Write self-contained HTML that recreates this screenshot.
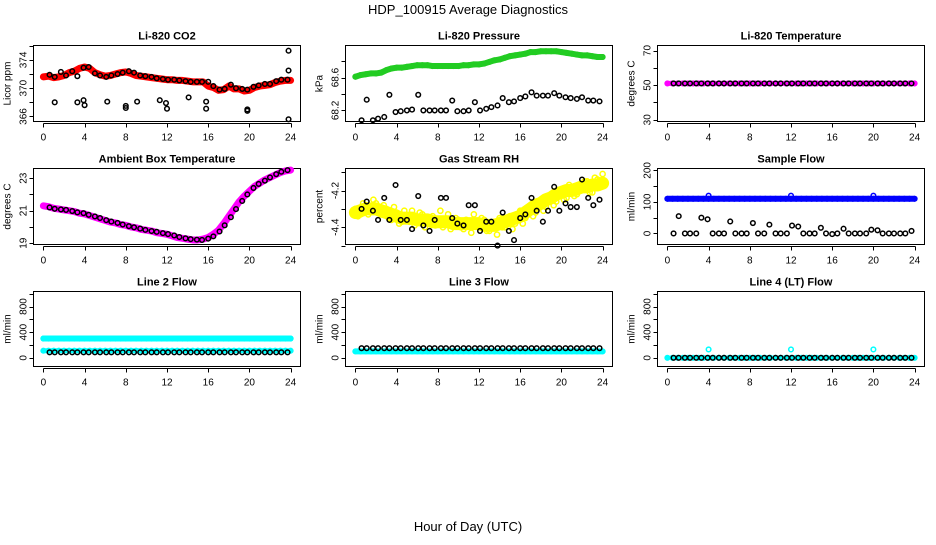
<!DOCTYPE html>
<html><head><meta charset="utf-8"><style>
body{margin:0;background:#fff;width:936px;height:540px;overflow:hidden}
svg text{font-family:"Liberation Sans",sans-serif}
</style></head><body>
<svg id="c" width="936" height="540" viewBox="0 0 936 540" xmlns="http://www.w3.org/2000/svg">
<text x="468" y="14" text-anchor="middle" font-size="13">HDP_100915  Average Diagnostics</text>
<text x="468" y="531" text-anchor="middle" font-size="13">Hour of Day (UTC)</text>
</svg>
<script>
// ---- data ----
const denseX = [0,0.5,1,1.5,2,2.5,3,3.5,4,4.5,5,5.5,6,6.5,7,7.5,8,8.5,9,9.5,10,10.5,11,11.5,12,12.5,13,13.5,14,14.5,15,15.5,16,16.5,17,17.5,18,18.5,19,19.5,20,20.5,21,21.5,22,22.5,23,23.5,24];
const blackX = [0.6,1.1,1.7,2.2,2.8,3.3,3.9,4.4,5.0,5.5,6.1,6.6,7.2,7.7,8.3,8.8,9.4,9.9,10.5,11.0,11.6,12.1,12.7,13.2,13.8,14.3,14.9,15.4,16.0,16.5,17.1,17.6,18.2,18.7,19.3,19.8,20.4,20.9,21.5,22.0,22.6,23.1,23.7];
const co2Red = [371.6,371.7,371.5,371.6,371.8,372.2,372.4,372.8,373,372.8,372.2,371.9,371.7,371.8,372,372.2,372.3,372.1,371.8,371.7,371.6,371.5,371.4,371.3,371.2,371.2,371.1,371.1,371,370.9,370.9,370.9,370.3,370.1,369.7,369.8,370.3,369.9,369.9,369.6,369.7,370.1,370.3,370.4,370.5,370.8,371,371.1,371.1];
const co2Black = [371.9,371.6,372.3,371.8,372.4,371.7,372.9,373.0,372.1,371.8,371.6,371.8,372.0,372.2,372.4,372.2,371.8,371.7,371.6,371.4,371.3,371.2,371.2,371.1,371.0,370.9,370.9,370.9,370.9,370.3,369.8,369.9,370.5,370.0,369.9,369.8,370.2,370.4,370.6,370.6,371.0,371.2,371.2];
const co2OutX = [1.1,3.3,3.9,4.0,6.2,8.0,8.0,9.1,11.3,11.9,12.0,14.1,15.8,15.8,19.8,19.8,23.8,23.8,23.8];
const co2OutY = [368,368,368.3,367.6,368.1,367.5,367.2,368.1,368.3,367.9,367.1,368.7,368.1,367.1,366.8,367.0,375.3,372.5,365.6];
const presGreen = [68.61,68.63,68.64,68.65,68.65,68.66,68.69,68.71,68.72,68.72,68.73,68.74,68.75,68.75,68.75,68.74,68.74,68.74,68.74,68.74,68.74,68.75,68.75,68.76,68.76,68.77,68.79,68.81,68.82,68.84,68.86,68.87,68.88,68.89,68.91,68.91,68.92,68.92,68.92,68.92,68.91,68.9,68.89,68.88,68.87,68.87,68.86,68.85,68.85];
const presBlack = [68.08,68.33,68.08,68.1,68.12,68.39,68.18,68.19,68.2,68.21,68.39,68.2,68.2,68.2,68.2,68.2,68.32,68.19,68.19,68.2,68.3,68.2,68.22,68.24,68.26,68.35,68.3,68.31,68.35,68.37,68.42,68.38,68.38,68.38,68.41,68.38,68.36,68.35,68.34,68.36,68.32,68.32,68.31];
const tempMag = [51,51,51,51,51,51,51,51,51,51,51,51,51,51,51,51,51,51,51,51,51,51,51,51,51,51,51,51,51,51,51,51,51,51,51,51,51,51,51,51,51,51,51,51,51,51,51,51,51];
const tempBlack = [51,51,51,51,51,51,51,51,51,51,51,51,51,51,51,51,51,51,51,51,51,51,51,51,51,51,51,51,51,51,51,51,51,51,51,51,51,51,51,51,51,51,51];
const ambMag = [21.3,21.25,21.15,21.1,21.05,21.0,20.95,20.85,20.8,20.7,20.6,20.5,20.4,20.3,20.25,20.15,20.1,20.0,19.95,19.85,19.8,19.75,19.65,19.6,19.55,19.45,19.35,19.3,19.25,19.2,19.2,19.25,19.35,19.55,19.8,20.2,20.65,21.1,21.55,21.9,22.2,22.5,22.7,22.9,23.05,23.2,23.35,23.45,23.5];
const ambBlack = [21.2,21.12,21.08,21.05,20.98,20.9,20.85,20.75,20.65,20.55,20.42,20.33,20.25,20.15,20.05,19.98,19.9,19.82,19.75,19.7,19.62,19.56,19.48,19.38,19.3,19.25,19.22,19.2,19.28,19.42,19.72,20.1,20.6,21.1,21.6,22.0,22.4,22.65,22.85,23.05,23.25,23.4,23.5];
const rhTrend = [-4.32,-4.31,-4.30,-4.30,-4.30,-4.31,-4.32,-4.33,-4.34,-4.35,-4.35,-4.35,-4.36,-4.36,-4.36,-4.37,-4.37,-4.37,-4.37,-4.38,-4.38,-4.38,-4.38,-4.38,-4.38,-4.39,-4.39,-4.39,-4.38,-4.37,-4.36,-4.35,-4.34,-4.32,-4.30,-4.28,-4.27,-4.25,-4.24,-4.22,-4.21,-4.20,-4.20,-4.19,-4.18,-4.18,-4.17,-4.17,-4.16];
const rhYellowA = [-4.30,-4.33,-4.28,-4.31,-4.27,-4.33,-4.30,-4.36,-4.32,-4.37,-4.34,-4.31,-4.36,-4.33,-4.38,-4.34,-4.36,-4.40,-4.33,-4.38,-4.36,-4.41,-4.37,-4.33,-4.39,-4.36,-4.42,-4.37,-4.35,-4.40,-4.34,-4.38,-4.31,-4.35,-4.28,-4.32,-4.26,-4.29,-4.22,-4.26,-4.20,-4.24,-4.18,-4.22,-4.19,-4.15,-4.21,-4.14,-4.17];
const rhYellowB = [-4.34,-4.27,-4.33,-4.25,-4.32,-4.28,-4.35,-4.29,-4.38,-4.31,-4.37,-4.39,-4.32,-4.40,-4.35,-4.39,-4.31,-4.37,-4.41,-4.35,-4.40,-4.36,-4.43,-4.38,-4.35,-4.42,-4.38,-4.44,-4.40,-4.36,-4.41,-4.33,-4.38,-4.30,-4.34,-4.27,-4.31,-4.23,-4.28,-4.21,-4.25,-4.17,-4.23,-4.19,-4.15,-4.21,-4.13,-4.18,-4.11];
const rhBlack = [-4.30,-4.26,-4.31,-4.36,-4.24,-4.36,-4.17,-4.36,-4.36,-4.41,-4.23,-4.39,-4.42,-4.36,-4.24,-4.24,-4.35,-4.38,-4.39,-4.28,-4.28,-4.42,-4.37,-4.37,-4.50,-4.32,-4.42,-4.47,-4.35,-4.33,-4.24,-4.31,-4.37,-4.31,-4.18,-4.31,-4.27,-4.29,-4.29,-4.14,-4.24,-4.28,-4.25];
const sampBlue = [110,110,110,110,110,110,110,110,110,110,110,110,110,110,110,110,110,110,110,110,110,110,110,110,110,110,110,110,110,110,110,110,110,110,110,110,110,110,110,110,110,110,110,110,110,110,110,110,110];
const sampBlack = [0,55,0,0,0,50,45,0,0,0,38,0,0,0,33,0,0,28,0,0,0,25,22,0,0,0,18,0,-2,0,15,0,0,0,0,12,10,0,0,0,0,0,8];
const line2Upper = [300,300,300,300,300,300,300,300,300,300,300,300,300,300,300,300,300,300,300,300,300,300,300,300,300,300,300,300,300,300,300,300,300,300,300,300,300,300,300,300,300,300,300,300,300,300,300,300,300];
const line2Lower = [110,110,110,110,110,110,110,110,110,110,110,110,110,110,110,110,110,110,110,110,110,110,110,110,110,110,110,110,110,110,110,110,110,110,110,110,110,110,110,110,110,110,110,110,110,110,110,110,110];
const line2Black = [85,85,85,85,85,85,85,85,85,85,85,85,85,85,85,85,85,85,85,85,85,85,85,85,85,85,85,85,85,85,85,85,85,85,85,85,85,85,85,85,85,85,85];
const line3Cyan = [100,100,100,100,100,100,100,100,100,100,100,100,100,100,100,100,100,100,100,100,100,100,100,100,100,100,100,100,100,100,100,100,100,100,100,100,100,100,100,100,100,100,100,100,100,100,100,100,100];
const line3Black = [150,150,150,150,150,150,150,150,150,150,150,150,150,150,150,150,150,150,150,150,150,150,150,150,150,150,150,150,150,150,150,150,150,150,150,150,150,150,150,150,150,150,150];
const line4Cyan = [0,0,0,0,0,0,0,0,0,0,0,0,0,0,0,0,0,0,0,0,0,0,0,0,0,0,0,0,0,0,0,0,0,0,0,0,0,0,0,0,0,0,0,0,0,0,0,0,0];
const line4Black = [0,0,0,0,0,0,0,0,0,0,0,0,0,0,0,0,0,0,0,0,0,0,0,0,0,0,0,0,0,0,0,0,0,0,0,0,0,0,0,0,0,0,0];
const flowOutX = [4,12,20];
const flowOutY = [120,120,120];
const line4OutY = [130,130,130];
const xTicks = [0,4,8,12,16,20,24];

const svg = document.getElementById('c');
const NS = 'http://www.w3.org/2000/svg';
function mk(tag, attrs, parent){
  const e = document.createElementNS(NS, tag);
  for (const k in attrs) e.setAttribute(k, attrs[k]);
  (parent||svg).appendChild(e);
  return e;
}
const rows = [{top:45.5,bot:121.5},{top:168.5,bot:244.5},{top:291.5,bot:366.5}];
const cols = [0,312,624];

function panel(r, c, name, title, ylab, lo, hi, ticks, labels){
  const g = mk('g', {});
  
  
  const L = 33.5 + cols[c], R = 300.5 + cols[c], T = rows[r].top, B = rows[r].bot;
  const xs = v => L + (v + 0.96) / 25.92 * (R - L);
  const ys = v => B - (v - lo) / (hi - lo) * (B - T);
  const box = mk('rect', {x:L, y:T, width:R-L, height:B-T, fill:'none', stroke:'#000', 'stroke-width':1}, g);
  
  
  const t = mk('text', {x:(L+R)/2, y:T-6, 'text-anchor':'middle', 'font-size':11, 'font-weight':'bold'}, g);
  t.textContent = title;
  
  
  const yl = mk('text', {x:0, y:0, 'text-anchor':'middle', 'font-size':10, transform:`translate(${L-23},${(T+B)/2}) rotate(-90)`}, g);
  yl.textContent = ylab;
  
  
  const xa = mk('line', {x1:Math.round(xs(0))+0.5, x2:Math.round(xs(24))+0.5, y1:B+2, y2:B+2, stroke:'#000'}, g);
  
  
  xTicks.forEach(v => {
    const tx0 = Math.round(xs(v)) + 0.5;
    mk('line', {x1:tx0, x2:tx0, y1:B+2, y2:B+6, stroke:'#000'}, g);
    const tx = mk('text', {x:xs(v), y:B+19, 'text-anchor':'middle', 'font-size':10}, g);
    tx.textContent = v;
    
    
  });
  ticks.forEach(v => {
    const ty0 = Math.round(ys(v)) + 0.5;
    mk('line', {x1:L-4, x2:L, y1:ty0, y2:ty0, stroke:'#000'}, g);
    if (labels.includes(v)) {
      const ty = mk('text', {x:0, y:0, 'text-anchor':'middle', 'font-size':10, transform:`translate(${L-7},${ys(v)}) rotate(-90)`}, g);
      ty.textContent = v;
      
      
    }
  });
  return {g, xs, ys};
}
function series(p, xarr, yarr, color, name, band, r){
  const n = Math.min(xarr.length, yarr.length);
  if (band) {
    const pts = [];
    for (let i=0;i<n;i++) pts.push(p.xs(xarr[i]) + ',' + p.ys(yarr[i]));
    const pl = mk('polyline', {points:pts.join(' '), fill:'none', stroke:color, 'stroke-width':band, 'stroke-linejoin':'round', 'stroke-linecap':'round'}, p.g);
    
    
  }
  for (let i=0;i<n;i++){
    const ci = mk('circle', {cx:p.xs(xarr[i]), cy:p.ys(yarr[i]), r:r||2.3, fill:'none', stroke:color, 'stroke-width':1.5}, p.g);
    
    
  }
}
const shiftedX = denseX.map(v => Math.min(24, v + 0.25));

let p;
p = panel(0,0,'co2','Li-820 CO2','Licor ppm',365.29,376.04,[366,368,370,372,374,376],[366,370,374]);
series(p, denseX, co2Red, '#f00', 'co2-red', 7);
series(p, blackX, co2Black, '#000', 'co2-black');
series(p, co2OutX, co2OutY, '#000', 'co2-outlier');

p = panel(0,1,'pressure','Li-820 Pressure','kPa',68.065,68.99,[68.2,68.4,68.6,68.8],[68.2,68.6]);
series(p, denseX, presGreen, '#2c2', 'pressure-green', 6);
series(p, blackX, presBlack, '#000', 'pressure-black');

p = panel(0,2,'temperature','Li-820 Temperature','degrees C',29,72.9,[30,40,50,60,70],[30,50,70]);
series(p, denseX, tempMag, '#f0f', 'temperature-magenta', 5);
series(p, blackX, tempBlack, '#000', 'temperature-black');

p = panel(1,0,'ambient','Ambient Box Temperature','degrees C',18.92,23.6,[19,20,21,22,23],[19,21,23]);
series(p, denseX, ambMag, '#f0f', 'ambient-magenta', 7);
series(p, blackX, ambBlack, '#000', 'ambient-black');

p = panel(1,1,'rh','Gas Stream RH','percent',-4.494,-4.08,[-4.5,-4.4,-4.3,-4.2,-4.1],[-4.4,-4.2]);
series(p, denseX, rhTrend, '#ff0', 'rh-yellow-trend', 13);
series(p, denseX, rhYellowA, '#ff0', 'rh-yellow-a', 0, 2.6);
series(p, shiftedX, rhYellowB, '#ff0', 'rh-yellow-b', 0, 2.6);
series(p, blackX, rhBlack, '#000', 'rh-black');

p = panel(1,2,'sample-flow','Sample Flow','ml/min',-35,206,[0,50,100,150,200],[0,100,200]);
series(p, denseX, sampBlue, '#00f', 'sample-blue', 6);
series(p, flowOutX, flowOutY, '#00f', 'sample-blue-outlier');
series(p, blackX, sampBlack, '#000', 'sample-black');

p = panel(2,0,'line2-flow','Line 2 Flow','ml/min',-136,1034,[0,200,400,600,800,1000],[0,400,800]);
series(p, denseX, line2Upper, '#0ff', 'line2-upper', 6);
series(p, denseX, line2Lower, '#0ff', 'line2-lower', 5);
series(p, blackX, line2Black, '#000', 'line2-black');

p = panel(2,1,'line3-flow','Line 3 Flow','ml/min',-136,1034,[0,200,400,600,800,1000],[0,400,800]);
series(p, denseX, line3Cyan, '#0ff', 'line3-cyan', 6);
series(p, blackX, line3Black, '#000', 'line3-black');

p = panel(2,2,'line4-flow','Line 4 (LT) Flow','ml/min',-136,1034,[0,200,400,600,800,1000],[0,400,800]);
series(p, denseX, line4Cyan, '#0ff', 'line4-cyan', 4);
series(p, flowOutX, line4OutY, '#0ff', 'line4-cyan-outlier');
series(p, blackX, line4Black, '#000', 'line4-black');
</script>
</body></html>
